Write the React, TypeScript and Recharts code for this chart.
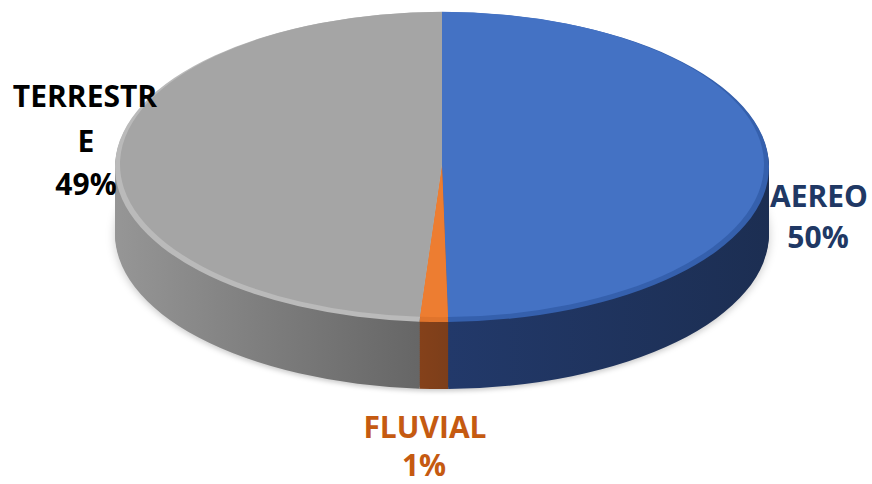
import { PieChart, Pie, Cell } from "recharts";

const categories = ["AEREO", "FLUVIAL", "TERRESTRE"];
const shares = [49.7, 1.4, 48.9];
const percentLabels = ["50%", "1%", "49%"];

const topColors = ["#4472c4", "#ed7d31", "#a5a5a5"];
const rimColors = ["#3560ad", "#e0742c", "#bababa"];
const sideFills = ["url(#sideBlue)", "url(#sideOrange)", "url(#sideGray)"];

const data = categories.map((name, i) => ({ name, value: shares[i] }));

const W = 872;
const H = 484;
const CX = 442;
const CY = 167;
const RX = 327;
const RY = 155;
const DEPTH = 67;
const S = RY / RX;
const STEP = 2;
const BEVEL = 5;

const depths: number[] = [];
for (let d = DEPTH; d > 0; d -= STEP) depths.push(d);

const layerCss = (d: number) =>
  `transform-origin:0 0;transform:translateY(${CY * (1 - S) + d}px) scaleY(${S});`;

// only the outermost element carrying the class gets the squash
const outer = (c: string) => `.${c}:not(.${c} *)`;

const css =
  "body{margin:0}" +
  depths.map((d) => `${outer(`side-${d}`)}{${layerCss(d)}}`).join("") +
  `${outer("top-rim")}{${layerCss(0)}}` +
  `${outer("top-face")}{${layerCss(-2.5)}}` +
  `${outer(`side-${DEPTH}`)}{filter:drop-shadow(0 5px 5px rgba(0,0,0,0.2));}`;

export default function App() {
  return (
    <div style={{ position: "relative", width: W, height: H, background: "#fff" }}>
      <style>{css}</style>
      <PieChart width={W} height={H} margin={{ top: 0, right: 0, bottom: 0, left: 0 }}>
        <defs>
          <linearGradient id="sideGray" x1="115" y1="0" x2="420" y2="0" gradientUnits="userSpaceOnUse">
            <stop offset="0" stopColor="#969696" />
            <stop offset="0.5" stopColor="#7d7d7d" />
            <stop offset="1" stopColor="#666666" />
          </linearGradient>
          <linearGradient id="sideBlue" x1="448" y1="0" x2="770" y2="0" gradientUnits="userSpaceOnUse">
            <stop offset="0" stopColor="#22396a" />
            <stop offset="1" stopColor="#1c2e52" />
          </linearGradient>
          <linearGradient id="sideOrange" x1="418" y1="0" x2="448" y2="0" gradientUnits="userSpaceOnUse">
            <stop offset="0" stopColor="#85411a" />
            <stop offset="1" stopColor="#7c3e1a" />
          </linearGradient>
        </defs>
        {depths.map((d) => (
          <Pie
            key={d}
            className={`side-${d}`}
            data={data}
            dataKey="value"
            nameKey="name"
            cx={CX}
            cy={CY}
            outerRadius={RX}
            startAngle={90}
            endAngle={-270}
            stroke="none"
            isAnimationActive={false}
          >
            {data.map((e, i) => (
              <Cell key={e.name} fill={sideFills[i]} stroke="none" />
            ))}
          </Pie>
        ))}
        <Pie
          className="top-rim"
          data={data}
          dataKey="value"
          nameKey="name"
          cx={CX}
          cy={CY}
          outerRadius={RX}
          startAngle={90}
          endAngle={-270}
          stroke="none"
          isAnimationActive={false}
        >
          {data.map((e, i) => (
            <Cell key={e.name} fill={rimColors[i]} stroke="none" />
          ))}
        </Pie>
        <Pie
          className="top-face"
          data={data}
          dataKey="value"
          nameKey="name"
          cx={CX}
          cy={CY}
          outerRadius={RX - BEVEL}
          startAngle={90}
          endAngle={-270}
          stroke="none"
          isAnimationActive={false}
        >
          {data.map((e, i) => (
            <Cell key={e.name} fill={topColors[i]} stroke="none" />
          ))}
        </Pie>
      </PieChart>
      <svg
        width={W}
        height={H}
        style={{ position: "absolute", left: 0, top: 0, pointerEvents: "none" }}
        fontFamily="'Open Sans', sans-serif"
        fontWeight="bold"
        fontSize={30}
        textAnchor="middle"
      >
        <text x={819} fill="#203864">
          <tspan x={819} y={207}>{categories[0]}</tspan>
          <tspan x={818} y={248}>{percentLabels[0]}</tspan>
        </text>
        <text x={425} fill="#c55a11">
          <tspan x={425} y={438}>{categories[1]}</tspan>
          <tspan x={424} y={476}>{percentLabels[1]}</tspan>
        </text>
        <text x={85} fill="#000000">
          <tspan x={85} y={107}>{categories[2].slice(0, 8)}</tspan>
          <tspan x={86} y={152}>{categories[2].slice(8)}</tspan>
          <tspan x={86} y={195}>{percentLabels[2]}</tspan>
        </text>
      </svg>
    </div>
  );
}
